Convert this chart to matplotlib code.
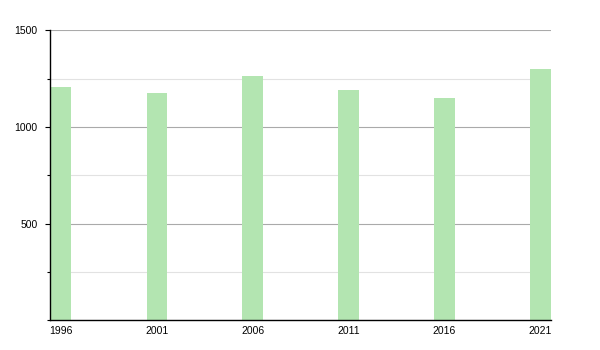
import matplotlib
matplotlib.use('Agg')
import matplotlib.pyplot as plt
from matplotlib.ticker import MultipleLocator

years = [1996, 2001, 2006, 2011, 2016, 2021]
population = [1208, 1175, 1263, 1194, 1152, 1298]

plt.rcParams['font.family'] = ['Liberation Sans', 'DejaVu Sans']

fig = plt.figure(figsize=(6, 3.5), dpi=100)
ax = fig.add_axes([0.0833, 0.085, 0.835, 0.828])

ax.bar(years, population, width=1.07, color="#b3e5b1", zorder=2)

ax.set_xlim(1995.43, 2021.55)
ax.set_ylim(0, 1500)
ax.set_xticks(years)
ax.set_yticks([500, 1000, 1500])
ax.yaxis.set_minor_locator(MultipleLocator(250))

# major grid darker, minor grid light
ax.grid(axis='y', which='major', color="#aaaaaa", linewidth=0.8, zorder=0)
ax.grid(axis='y', which='minor', color="#e2e2e2", linewidth=0.8, zorder=0)
ax.set_axisbelow(True)

for s in ['top', 'right']:
    ax.spines[s].set_visible(False)
ax.spines['left'].set_linewidth(1.0)
ax.spines['bottom'].set_linewidth(1.0)

ax.tick_params(axis='y', which='major', length=3.5, width=0.8, labelsize=7.5, pad=5.5)
ax.tick_params(axis='y', which='minor', length=2, width=0.8)
ax.tick_params(axis='x', length=0, labelsize=7.5, pad=4)

plt.savefig("out.png")
plt.close()
